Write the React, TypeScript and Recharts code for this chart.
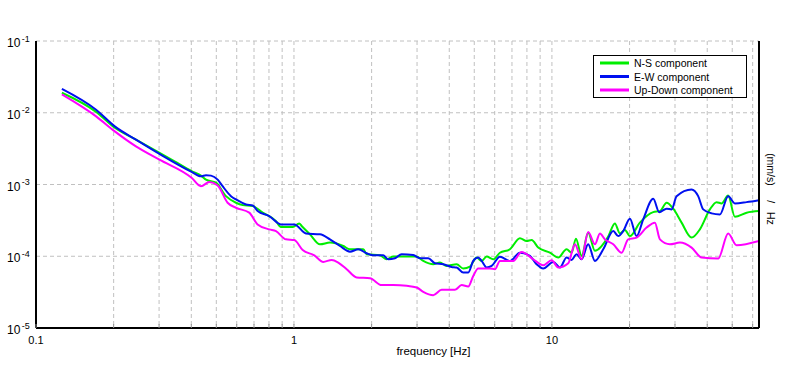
import React from 'react';
import { LineChart, Line, XAxis, YAxis, CartesianGrid, Legend } from 'recharts';

const nsFreq = [0.126, 0.171, 0.202, 0.244, 0.346, 0.401, 0.436, 0.456, 0.499, 0.545, 0.596, 0.633, 0.692, 0.756, 0.852, 0.890, 0.989, 1.048, 1.071, 1.153, 1.261, 1.379, 1.553, 1.649, 1.857, 1.913, 2.154, 2.288, 2.426, 2.990, 3.171, 3.467, 3.680, 3.907, 4.272, 4.531, 4.811, 5.107, 5.340, 5.584, 5.923, 6.287, 6.874, 7.516, 7.980, 8.344, 8.849, 9.822, 10.58, 11.40, 11.92, 12.39, 13.03, 13.82, 14.68, 16.53, 17.54, 18.35, 19.19, 20.06, 21.93, 24.70, 26.22, 27.84, 29.53, 31.82, 34.79, 37.46, 40.96, 43.48, 45.47, 48.23, 51.20, 56.85, 63.5];
const nsVal = [0.0190, 0.0103, 0.00619, 0.00422, 0.00208, 0.00154, 0.00133, 0.00117, 0.00106, 0.000688, 0.000557, 0.000516, 0.000500, 0.000405, 0.000309, 0.000255, 0.000255, 0.000287, 0.000264, 0.000202, 0.000147, 0.000155, 0.000139, 0.000125, 0.000125, 0.000107, 0.000103, 0.0000908, 0.0000990, 0.0000990, 0.0000861, 0.0000774, 0.0000818, 0.0000733, 0.0000774, 0.0000675, 0.0000719, 0.0000959, 0.0000861, 0.0000990, 0.0000908, 0.000112, 0.000125, 0.000178, 0.000163, 0.000168, 0.000132, 0.000112, 0.0000959, 0.000125, 0.000112, 0.000176, 0.000101, 0.000213, 0.000119, 0.000188, 0.000287, 0.000208, 0.000232, 0.000191, 0.000294, 0.000412, 0.000426, 0.000557, 0.000460, 0.000294, 0.000182, 0.000237, 0.000450, 0.000568, 0.000545, 0.000703, 0.000356, 0.000405, 0.000426];

const ewFreq = [0.126, 0.171, 0.202, 0.244, 0.301, 0.401, 0.436, 0.456, 0.477, 0.506, 0.529, 0.570, 0.596, 0.652, 0.692, 0.723, 0.802, 0.890, 1.003, 1.113, 1.261, 1.379, 1.508, 1.649, 1.775, 1.913, 2.030, 2.219, 2.320, 2.463, 2.615, 2.900, 3.078, 3.315, 3.520, 3.791, 4.086, 4.272, 4.531, 4.738, 4.955, 5.180, 5.340, 5.584, 5.839, 6.287, 6.874, 7.516, 8.216, 8.723, 9.254, 10.12, 10.74, 11.40, 11.92, 12.46, 13.03, 13.82, 14.68, 15.81, 17.29, 18.07, 18.90, 20.06, 21.30, 22.59, 24.70, 26.06, 27.84, 29.11, 30.43, 34.79, 36.90, 38.59, 41.59, 44.80, 48.23, 51.20, 56.85, 63.5];
const ewVal = [0.0215, 0.0110, 0.00646, 0.00422, 0.00267, 0.00150, 0.00130, 0.00135, 0.00133, 0.00117, 0.000946, 0.000688, 0.000619, 0.000527, 0.000511, 0.000426, 0.000363, 0.000278, 0.000278, 0.000208, 0.000202, 0.000172, 0.000139, 0.000116, 0.000125, 0.000110, 0.000103, 0.000103, 0.0000908, 0.0000938, 0.000107, 0.000104, 0.0000938, 0.0000938, 0.0000800, 0.0000774, 0.0000710, 0.0000697, 0.0000594, 0.0000594, 0.0000861, 0.0000959, 0.0000861, 0.0000697, 0.0000733, 0.0000984, 0.0000861, 0.000112, 0.000101, 0.0000774, 0.0000675, 0.0000834, 0.0000697, 0.0000959, 0.0000889, 0.000107, 0.0000908, 0.000147, 0.0000861, 0.000125, 0.000224, 0.000191, 0.000224, 0.000334, 0.000191, 0.000327, 0.000632, 0.000412, 0.000460, 0.000450, 0.000688, 0.000853, 0.000688, 0.000450, 0.000396, 0.000383, 0.000688, 0.000545, 0.000568, 0.000605];

const udFreq = [0.126, 0.171, 0.202, 0.244, 0.301, 0.401, 0.436, 0.470, 0.506, 0.553, 0.596, 0.671, 0.723, 0.802, 0.852, 0.931, 1.003, 1.081, 1.199, 1.299, 1.40, 1.485, 1.601, 1.750, 1.971, 2.188, 2.426, 2.735, 2.990, 3.171, 3.467, 3.737, 4.207, 4.467, 4.738, 4.955, 5.180, 5.750, 6.013, 6.287, 7.079, 7.63, 8.463, 9.254, 9.97, 10.58, 11.57, 12.28, 13.03, 13.82, 14.68, 15.35, 16.05, 17.29, 18.63, 19.75, 21.30, 23.28, 25.07, 26.22, 28.67, 31.35, 34.79, 38.04, 44.12, 48.23, 51.98, 63.5];
const udVal = [0.0180, 0.00889, 0.00550, 0.00340, 0.00222, 0.00124, 0.000946, 0.00108, 0.000968, 0.000557, 0.000474, 0.000405, 0.000278, 0.000237, 0.000224, 0.000172, 0.000168, 0.000122, 0.000103, 0.0000834, 0.0000889, 0.0000818, 0.0000660, 0.0000506, 0.0000494, 0.0000396, 0.0000396, 0.0000387, 0.0000367, 0.0000319, 0.0000287, 0.0000340, 0.0000340, 0.0000396, 0.0000379, 0.0000532, 0.0000675, 0.0000675, 0.0000660, 0.0000861, 0.0000861, 0.000115, 0.0000908, 0.0000750, 0.0000880, 0.0000697, 0.0000800, 0.000147, 0.0000908, 0.000218, 0.000147, 0.000208, 0.000172, 0.000147, 0.000112, 0.000172, 0.000182, 0.000251, 0.000294, 0.000172, 0.000147, 0.000155, 0.000132, 0.0000959, 0.0000929, 0.000208, 0.000142, 0.000163];

const xTicks = [0.1, 0.2, 0.3, 0.4, 0.5, 0.6, 0.7, 0.8, 0.9, 1, 2, 3, 4, 5, 6, 7, 8, 9, 10, 20, 30, 40, 50, 60];
const xLabelTicks = [0.1, 1, 10];
const yTicks = [1e-5, 1e-4, 1e-3, 1e-2, 1e-1];
const xDomain = [0.1, 63.5];
const yDomain = [1e-5, 1e-1];

const seriesNames = ['N-S component', 'E-W component', 'Up-Down component'];
const seriesColors = ['#00ee00', '#0010f0', '#ff00ff'];

const FONT = '"Liberation Sans", Arial, sans-serif';

const toData = (fs: number[], vs: number[]) => fs.map((f, i) => ({ f, v: vs[i] }));
const nsData = toData(nsFreq, nsVal);
const ewData = toData(ewFreq, ewVal);
const udData = toData(udFreq, udVal);

const XTick = (props: any) => {
  const { x, y, payload } = props;
  const v = payload.value;
  const isLabel = xLabelTicks.some((t) => Math.abs(t - v) < 1e-9);
  return (
    <g>
      <line x1={x} x2={x} y1={y - 4} y2={y} stroke="#909090" strokeWidth={1} />
      {isLabel && (
        <text x={x} y={y + 15.5} textAnchor="middle" fontSize={11} fontFamily={FONT} fill="#000">
          {String(v)}
        </text>
      )}
    </g>
  );
};

const YTick = (props: any) => {
  const { x, y, payload } = props;
  const exp = Math.round(Math.log10(payload.value));
  return (
    <text x={x - 29} y={y + 6} fontSize={12} fontFamily={FONT} fill="#000">
      10
      <tspan dx={1.5} dy={-5.5} fontSize={9}>{String(exp)}</tspan>
    </text>
  );
};

const renderLegend = () => (
  <svg width={154} height={43} style={{ display: 'block' }}>
    <rect x={0.5} y={0.5} width={153} height={42} fill="#fff" stroke="#000" strokeWidth={1} />
    {seriesNames.map((n, i) => (
      <g key={n}>
        <line x1={7} x2={36} y1={8 + 13.5 * i} y2={8 + 13.5 * i} stroke={seriesColors[i]} strokeWidth={3} />
        <text x={41} y={12 + 13.5 * i} fontSize={10.5} fontFamily={FONT} fill="#000">{n}</text>
      </g>
    ))}
  </svg>
);

const XLabel = (props: any) => {
  const vb = props.viewBox || {};
  return (
    <text x={433.5} y={(vb.y ?? 328) + 27} textAnchor="middle" fontSize={11.5} fontFamily={FONT} fill="#000">
      frequency [Hz]
    </text>
  );
};

const YRightLabel = (props: any) => {
  const vb = props.viewBox || {};
  const cx = (vb.x ?? 759) + 8;
  const cy = 189;
  return (
    <text
      x={cx}
      y={cy}
      textAnchor="middle"
      fontSize={10.5}
      fontFamily={FONT}
      fill="#000"
      transform={`rotate(90 ${cx} ${cy})`}
      style={{ whiteSpace: 'pre' }}
    >
      {'(mm/s)     /   Hz'}
    </text>
  );
};

export default function App() {
  return (
    <div style={{ position: 'absolute', left: 0, top: 0, width: 796, height: 370, background: '#fff', fontFamily: FONT }}>
      <LineChart width={796} height={370} margin={{ top: 41, right: 0, bottom: 0, left: 0 }}>
        <CartesianGrid stroke="#c0c0c0" strokeDasharray="4 3" />
        <XAxis
          dataKey="f"
          type="number"
          scale="log"
          domain={xDomain}
          ticks={xTicks}
          allowDataOverflow
          height={42}
          tickSize={0}
          tickMargin={0}
          tickLine={false}
          interval={0}
          axisLine={{ stroke: '#000', strokeWidth: 2 }}
          tick={<XTick />}
          label={<XLabel />}
        />
        <XAxis
          xAxisId="top"
          orientation="top"
          dataKey="f"
          type="number"
          scale="log"
          domain={xDomain}
          allowDataOverflow
          height={0}
          tick={false}
          tickLine={false}
          axisLine={{ stroke: '#000', strokeWidth: 2 }}
        />
        <YAxis
          type="number"
          scale="log"
          domain={yDomain}
          ticks={yTicks}
          allowDataOverflow
          width={36}
          tickSize={0}
          tickMargin={0}
          tickLine={false}
          interval={0}
          axisLine={{ stroke: '#000', strokeWidth: 2 }}
          tick={<YTick />}
        />
        <YAxis
          yAxisId="right"
          orientation="right"
          type="number"
          scale="log"
          domain={yDomain}
          allowDataOverflow
          width={37}
          tick={false}
          tickLine={false}
          axisLine={{ stroke: '#000', strokeWidth: 2 }}
          label={<YRightLabel />}
        />
        <Legend
          layout="vertical"
          align="center"
          verticalAlign="middle"
          wrapperStyle={{ left: 593, top: 55, width: 154, height: 43 }}
          content={renderLegend}
        />
        <Line data={nsData} dataKey="v" name={seriesNames[0]} stroke={seriesColors[0]} strokeWidth={2} dot={false} type="monotone" isAnimationActive={false} />
        <Line data={ewData} dataKey="v" name={seriesNames[1]} stroke={seriesColors[1]} strokeWidth={2} dot={false} type="monotone" isAnimationActive={false} />
        <Line data={udData} dataKey="v" name={seriesNames[2]} stroke={seriesColors[2]} strokeWidth={2} dot={false} type="monotone" isAnimationActive={false} />
      </LineChart>
    </div>
  );
}
